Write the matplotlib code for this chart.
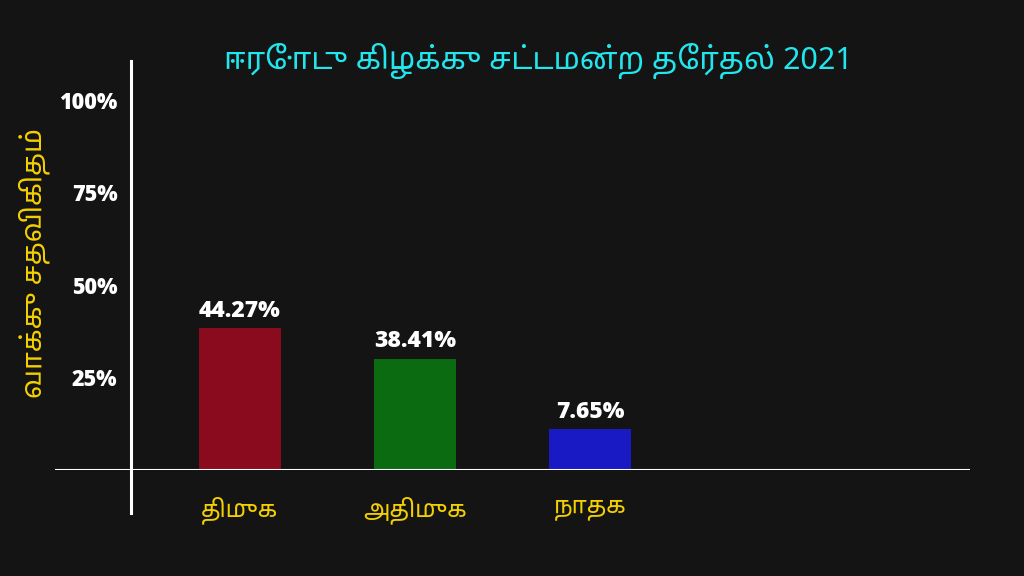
import matplotlib
matplotlib.use("Agg")
import matplotlib.pyplot as plt
from matplotlib import font_manager as fm

# data
parties = ["திமுக", "அதிமுக", "நாதக"]
vote_labels = ["44.27%", "38.41%", "7.65%"]
bar_heights = [38.3, 30.0, 11.0]      # heights as drawn in the source image
bar_colors = ["#8a0a1e", "#0a6b10", "#1a1ac4"]
y_ticks = [25, 50, 75, 100]
y_tick_labels = ["25%", "50%", "75%", "100%"]
title = "ஈரோடு கிழக்கு சட்டமன்ற தேர்தல் 2021"
y_title = "வாக்கு சதவிகிதம்"

# Tamil font if the machine has one (prefer Noto Sans Tamil)
names = sorted({f.name for f in fm.fontManager.ttflist if "Tamil" in f.name})
pref = [n for n in ("Noto Sans Tamil", "Noto Sans Tamil UI") if n in names]
tamil = (pref or names)[:1]
tam_fams = tamil + ["DejaVu Sans"]
num_fams = ["Open Sans", "DejaVu Sans"]
plt.rcParams["font.family"] = tam_fams

bg = "#141414"
fig = plt.figure(figsize=(10.24, 5.76), dpi=100, facecolor=bg)
ax = fig.add_axes([55 / 1024, 106 / 576, 915 / 1024, 370 / 576])
ax.set_facecolor(bg)

x = list(range(len(parties)))
ax.set_xlim(-1.057, 4.171)
ax.set_ylim(0, 100)

bars = ax.bar(x, bar_heights, width=0.47, color=bar_colors, zorder=2)
for b, lab in zip(bars, vote_labels):
    ax.annotate(lab, (b.get_x() + b.get_width() / 2, b.get_height()),
                xytext=(0, 4), textcoords="offset points", ha="center",
                va="bottom", color="white", fontsize=16.5, fontweight="heavy",
                family=num_fams)

for s in ax.spines.values():
    s.set_visible(False)

ax.axhline(0, color="white", lw=2.2, zorder=3)
ax.axvline(-0.623, ymin=-0.115, ymax=1.105, color="white", lw=2.2,
           clip_on=False, zorder=3)

ax.set_yticks(y_ticks)
ax.set_yticklabels(y_tick_labels, color="white", fontsize=15.5,
                   fontweight="heavy", family=num_fams)
ax.tick_params(axis="y", length=0, pad=-45)
for t in ax.get_yticklabels():
    t.set_horizontalalignment("right")

ax.set_xticks(x)
ax.set_xticklabels(parties, color="#f5d000", fontsize=17, fontweight="bold")
ax.tick_params(axis="x", length=0, pad=19)

ax.set_ylabel(y_title, color="#f5d000", fontsize=20, fontweight="bold")
ax.yaxis.set_label_coords(-0.006, 0.56)

fig.text(538 / 1024, 1 - 61 / 576, title, color="#22e6ee", fontsize=22,
         fontweight="bold", ha="center", va="center")

fig.savefig("out.png", dpi=100, facecolor=bg)
